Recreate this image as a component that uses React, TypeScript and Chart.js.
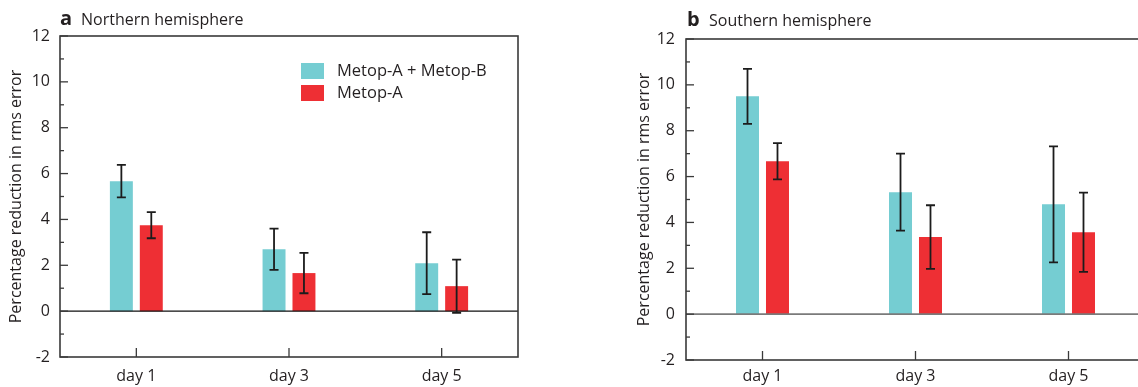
import React, { useEffect, useRef } from "react";
import { Chart, registerables } from "chart.js";

Chart.register(...registerables);

const FONT = "'Open Sans', 'Noto Sans', sans-serif";
Chart.defaults.font.family = FONT;

const categories = ["day 1", "day 3", "day 5"];
const seriesLabels = ["Metop-A + Metop-B", "Metop-A"];
const seriesColors = ["#75cdd2", "#ee2f34"];

const nhCombined = [5.67, 2.7, 2.09];
const nhCombinedErr = [0.71, 0.9, 1.35];
const nhMetopA = [3.75, 1.66, 1.09];
const nhMetopAErr = [0.57, 0.88, 1.16];

const shCombined = [9.5, 5.32, 4.79];
const shCombinedErr = [1.2, 1.68, 2.53];
const shMetopA = [6.67, 3.36, 3.57];
const shMetopAErr = [0.79, 1.39, 1.73];

const yMin = -2;
const yMax = 12;
const yStep = 2;
const yAxisTitle = "Percentage reduction in rms error";

const TEXT = "#231f20";

const decorPlugin = {
  id: "decor",
  afterDatasetsDraw(chart: any, _args: any, opts: any) {
    const ctx = chart.ctx as CanvasRenderingContext2D;
    const area = chart.chartArea;
    const xs = chart.scales.x;
    const ys = chart.scales.y;
    ctx.save();

    // zero line
    const y0 = ys.getPixelForValue(0);
    ctx.strokeStyle = opts.zeroColor;
    ctx.lineWidth = opts.zeroWidth;
    ctx.beginPath();
    ctx.moveTo(area.left, y0);
    ctx.lineTo(area.right, y0);
    ctx.stroke();

    // error bars
    ctx.strokeStyle = "#1c1c1c";
    ctx.lineWidth = 1.8;
    chart.data.datasets.forEach((ds: any, di: number) => {
      const meta = chart.getDatasetMeta(di);
      meta.data.forEach((bar: any, i: number) => {
        const v = ds.data[i];
        const e = ds.errors[i];
        const yt = ys.getPixelForValue(v + e);
        const yb = ys.getPixelForValue(v - e);
        const cx = bar.x;
        const hw = 4.5;
        ctx.beginPath();
        ctx.moveTo(cx, yt);
        ctx.lineTo(cx, yb);
        ctx.moveTo(cx - hw, yt);
        ctx.lineTo(cx + hw, yt);
        ctx.moveTo(cx - hw, yb);
        ctx.lineTo(cx + hw, yb);
        ctx.stroke();
      });
    });

    // frame
    ctx.strokeStyle = "#3a3a3a";
    ctx.lineWidth = 1.6;
    ctx.strokeRect(area.left, area.top, area.right - area.left, area.bottom - area.top);

    // y ticks (inward)
    ctx.lineWidth = 1.3;
    for (let v = yMin; v <= yMax; v += 1) {
      const py = ys.getPixelForValue(v);
      const len = v % 2 === 0 ? 8 : 4;
      ctx.beginPath();
      ctx.moveTo(area.left, py);
      ctx.lineTo(area.left + len, py);
      ctx.stroke();
    }
    // x ticks (inward)
    categories.forEach((_c, i) => {
      const px = xs.getPixelForValue(i);
      ctx.beginPath();
      ctx.moveTo(px, area.bottom);
      ctx.lineTo(px, area.bottom - 9);
      ctx.stroke();
    });

    // legend
    if (opts.legend) {
      const { lx, ly } = opts.legend;
      chart.data.datasets.forEach((ds: any, di: number) => {
        const top = ly + di * 22;
        ctx.fillStyle = ds.backgroundColor;
        ctx.fillRect(lx, top, 23, 16);
        ctx.fillStyle = TEXT;
        ctx.font = `16.5px ${FONT}`;
        ctx.textAlign = "left";
        ctx.textBaseline = "middle";
        ctx.fillText(ds.label, lx + 36, top + 8.5);
      });
    }

    // panel title
    const t = opts.title;
    ctx.fillStyle = TEXT;
    ctx.textAlign = "left";
    ctx.textBaseline = "alphabetic";
    ctx.font = `bold 20px ${FONT}`;
    ctx.fillText(t.letter, t.lx, t.base);
    ctx.font = `16px ${FONT}`;
    ctx.fillText(t.text, t.tx, t.base);

    ctx.restore();
  },
};

type PanelProps = {
  letter: string;
  title: string;
  combined: number[];
  combinedErr: number[];
  metopA: number[];
  metopAErr: number[];
  left: number;
  width: number;
  padTop: number;
  xAxisHeight: number;
  xLabelPad: number;
  yLabelPad: number;
  yTitlePad: number;
  zeroColor: string;
  zeroWidth: number;
  legend?: { lx: number; ly: number };
  titlePos: { lx: number; tx: number; base: number };
};

function Panel(p: PanelProps) {
  const ref = useRef<HTMLCanvasElement | null>(null);
  useEffect(() => {
    if (!ref.current) return;
    const chart = new Chart(ref.current, {
      type: "bar",
      data: {
        labels: categories,
        datasets: [
          {
            label: seriesLabels[0],
            data: p.combined,
            errors: p.combinedErr,
            backgroundColor: seriesColors[0],
            borderWidth: 0,
          } as any,
          {
            label: seriesLabels[1],
            data: p.metopA,
            errors: p.metopAErr,
            backgroundColor: seriesColors[1],
            borderWidth: 0,
          } as any,
        ],
      },
      options: {
        responsive: false,
        animation: false,
        devicePixelRatio: 1,
        datasets: {
          bar: { categoryPercentage: 0.392, barPercentage: 0.767 },
        },
        layout: { padding: { left: 0, right: 12, top: p.padTop, bottom: 0 } },
        plugins: {
          legend: { display: false },
          tooltip: { enabled: false },
          decor: {
            zeroColor: p.zeroColor,
            zeroWidth: p.zeroWidth,
            legend: p.legend,
            title: { letter: p.letter, text: p.title, ...p.titlePos },
          },
        } as any,
        scales: {
          x: {
            type: "category",
            grid: { display: false, drawTicks: false },
            border: { display: false },
            ticks: { color: TEXT, font: { size: 16 }, padding: p.xLabelPad, maxRotation: 0 },
            afterFit: (s: any) => {
              s.height = p.xAxisHeight;
            },
          },
          y: {
            type: "linear",
            min: yMin,
            max: yMax,
            grid: { display: false, drawTicks: false },
            border: { display: false },
            ticks: { stepSize: yStep, color: TEXT, font: { size: 16 }, padding: p.yLabelPad },
            title: {
              display: true,
              text: yAxisTitle,
              color: TEXT,
              font: { size: 16 },
              padding: { top: p.yTitlePad, bottom: 0 },
            },
            afterFit: (s: any) => {
              s.width = 60;
            },
          },
        },
      } as any,
      plugins: [decorPlugin as any],
    });
    return () => chart.destroy();
  }, []);
  return (
    <canvas
      ref={ref}
      width={p.width}
      height={387}
      style={{ position: "absolute", left: p.left, top: 0, width: p.width, height: 387, display: "block" }}
    />
  );
}

export default function App() {
  return (
    <div
      style={{
        position: "fixed",
        left: 0,
        top: 0,
        width: 1138,
        height: 387,
        overflow: "hidden",
        background: "#ffffff",
      }}
    >
      <Panel
        letter="a"
        title="Northern hemisphere"
        combined={nhCombined}
        combinedErr={nhCombinedErr}
        metopA={nhMetopA}
        metopAErr={nhMetopAErr}
        left={0}
        width={530}
        padTop={36}
        xAxisHeight={30}
        xLabelPad={10}
        yLabelPad={10}
        yTitlePad={7}
        zeroColor="#111111"
        zeroWidth={1.3}
        legend={{ lx: 301, ly: 63 }}
        titlePos={{ lx: 60, tx: 81, base: 25 }}
      />
      <Panel
        letter="b"
        title="Southern hemisphere"
        combined={shCombined}
        combinedErr={shCombinedErr}
        metopA={shMetopA}
        metopAErr={shMetopAErr}
        left={626}
        width={531}
        padTop={39}
        xAxisHeight={27}
        xLabelPad={7}
        yLabelPad={11}
        yTitlePad={9}
        zeroColor="#7a7a7a"
        zeroWidth={1.6}
        titlePos={{ lx: 61, tx: 83, base: 26 }}
      />
    </div>
  );
}
